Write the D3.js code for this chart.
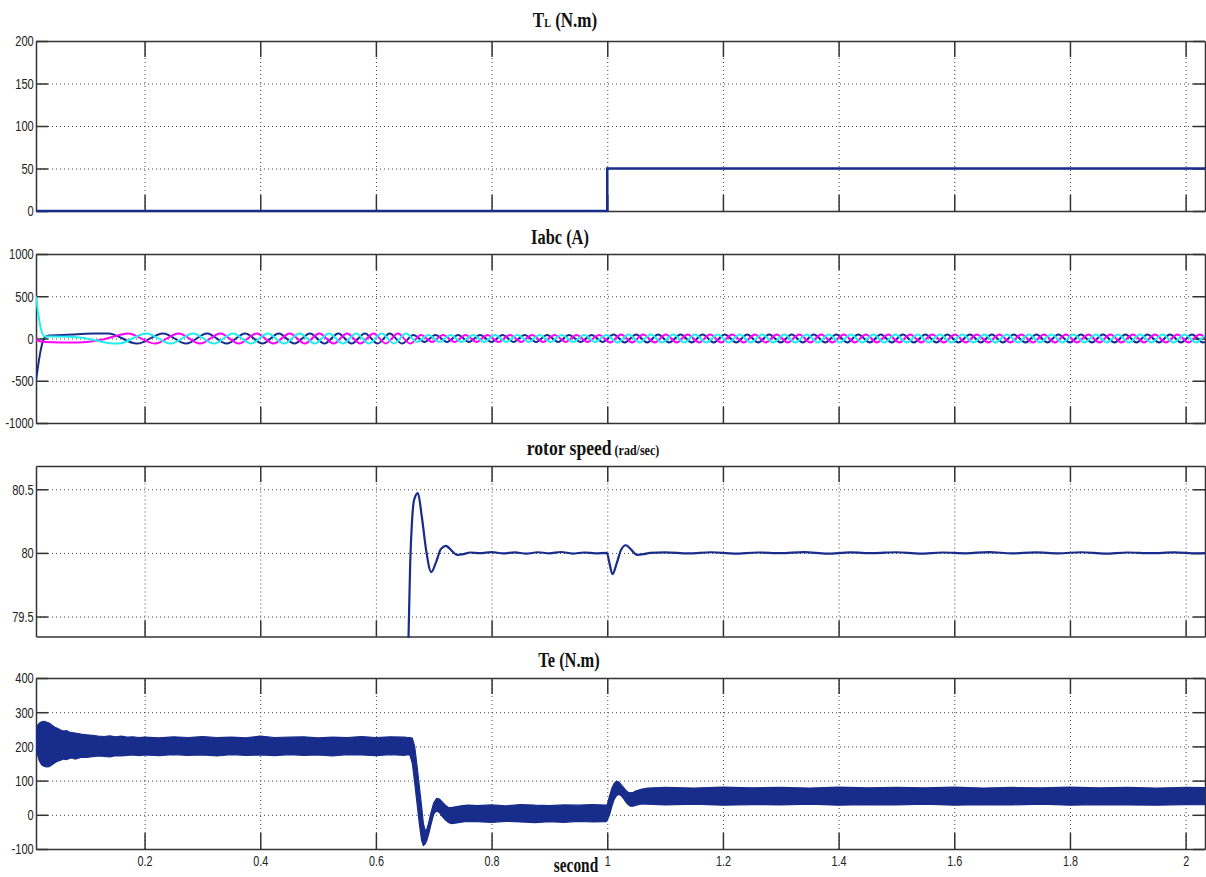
<!DOCTYPE html>
<html>
<head>
<meta charset="utf-8">
<script src="https://cdnjs.cloudflare.com/ajax/libs/d3/7.8.5/d3.min.js"></script>
<style>
  body { margin: 0; background: #fff; }
  .grid path { display: none; }
  .grid line { stroke: #444; stroke-width: 1; stroke-dasharray: 1,3; }
  .axis path, .axis line { stroke: #333; stroke-width: 1.5; }
  .axis text { font-family: "Liberation Sans", Arial, sans-serif; font-size: 15px; fill: #222; }
  .title { font-family: "Liberation Serif", "Times New Roman", serif; font-weight: bold; fill: #111; }
</style>
</head>
<body>
<svg id="chart" width="1206" height="877"></svg>
<script>
// x axis (time, s)
var xDomain = [0.0123, 2.0335];
var xTicks = [0.2, 0.4, 0.6, 0.8, 1, 1.2, 1.4, 1.6, 1.8, 2];
var xTickLabels = ['0.2', '0.4', '0.6', '0.8', '1', '1.2', '1.4', '1.6', '1.8', '2'];

// TL (N.m)
var tlT = [0.0123, 1.0, 1.0, 2.04];
var tlV = [0, 0, 50, 50];
var tlTicks = [0, 50, 100, 150, 200];
var tlTickLabels = ['0', '50', '100', '150', '200'];

// Iabc (A): start transients, then times (ms) of successive peaks/troughs
var iTicks = [-1000, -500, 0, 500, 1000];
var iTickLabels = ['-1000', '-500', '0', '500', '1000'];
var iaStart = [[0.0123, -500], [0.016, -320], [0.021, -120], [0.027, 10], [0.035, 35], [0.06, 40], [0.09, 52], [0.115, 60]];
var ibStart = [[0.0123, -15], [0.02, -35], [0.04, -45], [0.07, -48], [0.1, -40], [0.13, -10], [0.15, 30]];
var icStart = [[0.0123, 500], [0.016, 300], [0.021, 110], [0.027, 25], [0.04, 25], [0.07, 20], [0.095, 5], [0.12, -30], [0.14, -55]];
var iaExt = [137,187,232,272,308,342,374,404,432,459,486,511,535,558,581,603,624,645,
  665,684,703,723,742,761,780,800,819,838,857,877,896,915,934,954,973,992,1011,1030,1050,1069,1088,1107,1127,1146,
  1165,1184,1203,1223,1242,1261,1280,1300,1319,1338,1357,1377,1396,1415,1434,1454,1473,1492,1511,1530,1550,1569,
  1588,1607,1627,1646,1665,1684,1703,1723,1742,1761,1780,1800,1819,1838,1857,1877,1896,1915,1934,1954,1973,1992,
  2011,2030,2050];
var ibExt = [171,218,259,296,331,363,394,423,451,477,502,527,550,573,596,617,638,659,
  678,697,716,736,755,774,793,812,832,851,870,889,909,928,947,966,986,1005,1024,1043,1062,1082,1101,1120,1139,1159,
  1178,1197,1216,1236,1255,1274,1293,1312,1332,1351,1370,1389,1409,1428,1447,1466,1486,1505,1524,1543,1562,1582,
  1601,1620,1639,1659,1678,1697,1716,1736,1755,1774,1793,1812,1832,1851,1870,1889,1909,1928,1947,1966,1986,2005,
  2024,2043];
var icExt = [155,203,245,284,320,353,384,413,441,468,494,519,543,566,588,610,631,652,
  671,691,710,729,748,768,787,806,825,845,864,883,902,921,941,960,979,998,1018,1037,1056,1075,1095,1114,1133,1152,
  1171,1191,1210,1229,1248,1268,1287,1306,1325,1345,1364,1383,1402,1421,1441,1460,1479,1498,1518,1537,1556,1575,
  1595,1614,1633,1652,1671,1691,1710,1729,1748,1768,1787,1806,1825,1845,1864,1883,1902,1921,1941,1960,1979,1998,
  2018,2037,2056];
var iaFirstSign = 1, ibFirstSign = 1, icFirstSign = -1;
var iAmpEnd = [0.66, 1.0, 2.1];
var iAmpVal = [60, 40, 46];

// rotor speed (rad/sec)
var spdTicks = [79.5, 80, 80.5];
var spdTickLabels = ['79.5', '80', '80.5'];
var spdT = [0.0123, 0.64, 0.6564, 0.6593, 0.6622, 0.6662, 0.6726, 0.6795, 0.6869, 0.6956, 0.7042, 0.7123, 0.7209, 0.7313, 0.74, 0.7514, 0.763,
  0.78, 0.8, 0.82, 0.84, 0.86, 0.88, 0.9, 0.92, 0.94, 0.96, 0.98, 0.9993,
  1.0038, 1.0089, 1.0165, 1.0235, 1.0321, 1.0425, 1.0511, 1.0626, 1.074,
  1.1, 1.14, 1.18, 1.22, 1.26, 1.3, 1.34, 1.38, 1.42, 1.46, 1.5, 1.54, 1.58, 1.62, 1.66, 1.7, 1.74, 1.78, 1.82, 1.86, 1.9, 1.94, 1.98, 2.02, 2.04];
var spdV = [0.5, 76.4, 79.34, 79.92, 80.23, 80.42, 80.47, 80.28, 80.02, 79.85, 79.93, 80.03, 80.055, 80.016, 79.985, 79.99, 80.003,
  79.998, 80.006, 79.996, 80.004, 79.994, 80.005, 79.997, 80.007, 79.995, 80.003, 79.997, 80.0,
  79.92, 79.833, 79.92, 80.02, 80.06, 80.02, 79.985, 79.99, 80.0,
  80.004, 79.996, 80.005, 79.995, 80.003, 79.998, 80.006, 79.994, 80.004, 79.998, 80.005, 79.995, 80.003, 79.997, 80.006, 79.996, 80.004, 79.997, 80.005, 79.995, 80.003, 79.998, 80.004, 79.996, 80.0];

// Te (N.m): upper / lower edge of the ripple band
var teTicks = [-100, 0, 100, 200, 300, 400];
var teTickLabels = ['-100', '0', '100', '200', '300', '400'];
var teT = [0.0123, 0.015, 0.018, 0.022, 0.026, 0.03, 0.035, 0.04, 0.045, 0.05, 0.055, 0.06, 0.065, 0.07, 0.075, 0.08, 0.09, 0.1, 0.11, 0.12, 0.13, 0.14, 0.15, 0.16, 0.17, 0.18, 0.19,
  0.2, 0.225, 0.25, 0.275, 0.3, 0.325, 0.35, 0.375, 0.4, 0.425, 0.45, 0.475, 0.5, 0.525, 0.55, 0.575, 0.6, 0.625, 0.65, 0.655,
  0.659, 0.663, 0.667, 0.671, 0.675, 0.679, 0.682, 0.685, 0.688, 0.691, 0.695, 0.7, 0.705, 0.71, 0.715, 0.72, 0.725, 0.73, 0.74, 0.75, 0.76,
  0.775, 0.8, 0.825, 0.85, 0.875, 0.9, 0.925, 0.95, 0.975, 0.998,
  1.0, 1.004, 1.008, 1.012, 1.016, 1.02, 1.024, 1.028, 1.032, 1.036, 1.04, 1.045, 1.05, 1.06, 1.07,
  1.1, 1.15, 1.2, 1.25, 1.3, 1.35, 1.4, 1.45, 1.5, 1.55, 1.6, 1.65, 1.7, 1.75, 1.8, 1.85, 1.9, 1.95, 2.0, 2.05];
var teHi = [250, 262, 268, 272, 273, 271, 268, 262, 256, 252, 248, 245, 246, 242, 240, 239, 236, 234, 232, 230, 229, 231, 228, 230, 227, 228, 226,
  227, 225, 228, 226, 229, 226, 227, 225, 230, 226, 227, 228, 225, 227, 226, 229, 226, 228, 227, 226,
  226, 224, 200, 145, 85, 25, -25, -45, -42, -25, 5, 35, 48, 46, 37, 28, 22, 21, 24, 27, 28,
  27, 29, 26, 30, 28, 27, 29, 28, 30, 28,
  30, 55, 78, 92, 98, 96, 88, 80, 72, 66, 64, 66, 70, 75, 78,
  80, 78, 81, 79, 80, 78, 81, 79, 80, 79, 81, 78, 80, 79, 81, 79, 80, 78, 80, 79];
var teLo = [198, 175, 158, 146, 142, 140, 141, 146, 152, 157, 160, 163, 161, 165, 166, 163, 168, 168, 170, 172, 171, 169, 173, 172, 174, 175, 173,
  175, 173, 176, 174, 175, 172, 176, 174, 175, 173, 176, 174, 175, 172, 176, 175, 173, 176, 174, 176,
  174, 150, 95, 35, -25, -75, -90, -86, -75, -58, -30, 2, 12, 6, -5, -15, -22, -26, -24, -21, -19,
  -20, -22, -19, -21, -23, -20, -22, -19, -21, -20,
  -16, 0, 25, 45, 56, 60, 56, 48, 38, 30, 25, 25, 28, 32, 31,
  29, 31, 28, 30, 29, 31, 28, 30, 29, 31, 28, 30, 29, 31, 28, 30, 29, 28, 30, 29];

var navy = '#182c8c';
var left = 36, right = 1205;

var panels = [
  { top: 41,  bottom: 211,   domain: [0, 200],         ticks: tlTicks,  labels: tlTickLabels },
  { top: 254, bottom: 423,   domain: [-1000, 1000],    ticks: iTicks,   labels: iTickLabels },
  { top: 466, bottom: 636.5, domain: [79.343, 80.683], ticks: spdTicks, labels: spdTickLabels },
  { top: 678, bottom: 849,   domain: [-100, 400],      ticks: teTicks,  labels: teTickLabels }
];

var svg = d3.select('#chart');
var x = d3.scaleLinear().domain(xDomain).range([left, right]);
var defs = svg.append('defs');

panels.forEach(function(p, i) {
  var y = d3.scaleLinear().domain(p.domain).range([p.bottom, p.top]);
  p.y = y;
  var h = p.bottom - p.top;
  var g = svg.append('g');

  defs.append('clipPath').attr('id', 'clip' + i)
    .append('rect')
    .attr('x', left).attr('y', p.top - 1.5)
    .attr('width', right - left).attr('height', h + 3);

  // dotted grid
  g.append('g').attr('class', 'grid')
    .attr('transform', 'translate(0,' + p.bottom + ')')
    .call(d3.axisBottom(x).tickValues(xTicks).tickSize(-h).tickFormat(''));
  g.append('g').attr('class', 'grid')
    .attr('transform', 'translate(' + left + ',0)')
    .call(d3.axisLeft(y).tickValues(p.ticks).tickSize(-(right - left)).tickFormat(''));

  // box with inward ticks
  g.append('g').attr('class', 'axis')
    .attr('transform', 'translate(' + left + ',0)')
    .call(d3.axisLeft(y).tickValues(p.ticks).tickSizeInner(-12).tickSizeOuter(0).tickPadding(3)
      .tickFormat(function(d, k) { return p.labels[k]; }))
    .selectAll('text').attr('transform', 'scale(0.74,1)');
  g.append('g').attr('class', 'axis')
    .attr('transform', 'translate(' + right + ',0)')
    .call(d3.axisRight(y).tickValues(p.ticks).tickSizeInner(-12).tickSizeOuter(0).tickFormat(''));
  g.append('g').attr('class', 'axis')
    .attr('transform', 'translate(0,' + p.top + ')')
    .call(d3.axisTop(x).tickValues(xTicks).tickSizeInner(-16).tickSizeOuter(0).tickFormat(''));
  var bottomAxis = d3.axisBottom(x).tickValues(xTicks).tickSizeInner(-16).tickSizeOuter(0).tickPadding(6);
  if (i === panels.length - 1) {
    bottomAxis.tickFormat(function(d, k) { return xTickLabels[k]; });
  } else {
    bottomAxis.tickFormat('');
  }
  g.append('g').attr('class', 'axis')
    .attr('transform', 'translate(0,' + p.bottom + ')')
    .call(bottomAxis)
    .selectAll('text').attr('transform', 'scale(0.72,1)');

  p.plot = svg.append('g').attr('clip-path', 'url(#clip' + i + ')');
});

// TL
var p0 = panels[0];
p0.plot.append('path')
  .datum(d3.zip(tlT, tlV))
  .attr('fill', 'none').attr('stroke', navy).attr('stroke-width', 2.5)
  .attr('d', d3.line().x(function(d) { return x(d[0]); }).y(function(d) { return p0.y(d[1]); }));

// Iabc
function ampAt(t) {
  for (var k = 0; k < iAmpEnd.length; k++) {
    if (t < iAmpEnd[k]) return iAmpVal[k];
  }
  return iAmpVal[iAmpVal.length - 1];
}
function phasePoints(start, ext, firstSign) {
  var pts = start.slice();
  ext.forEach(function(ms, k) {
    var t = ms / 1000;
    var s = (k % 2 === 0) ? firstSign : -firstSign;
    pts.push([t, s * ampAt(t)]);
  });
  return pts;
}
var p1 = panels[1];
var iLine = d3.line()
  .x(function(d) { return x(d[0]); })
  .y(function(d) { return p1.y(d[1]); })
  .curve(d3.curveMonotoneX);
var phases = [
  { pts: phasePoints(iaStart, iaExt, iaFirstSign), color: navy },
  { pts: phasePoints(ibStart, ibExt, ibFirstSign), color: '#ff00ff' },
  { pts: phasePoints(icStart, icExt, icFirstSign), color: '#22eeee' }
];
p1.plot.selectAll('path.phase')
  .data(phases)
  .enter()
  .append('path')
  .attr('class', 'phase')
  .attr('fill', 'none')
  .attr('stroke', function(d) { return d.color; })
  .attr('stroke-width', 2)
  .attr('d', function(d) { return iLine(d.pts); });

// rotor speed
var p2 = panels[2];
p2.plot.append('path')
  .datum(d3.zip(spdT, spdV))
  .attr('fill', 'none').attr('stroke', navy).attr('stroke-width', 2.2)
  .attr('d', d3.line()
    .x(function(d) { return x(d[0]); })
    .y(function(d) { return p2.y(d[1]); })
    .curve(d3.curveMonotoneX));

// Te band
var p3 = panels[3];
p3.plot.append('path')
  .datum(d3.zip(teT, teHi, teLo))
  .attr('fill', navy).attr('stroke', navy).attr('stroke-width', 1.2)
  .attr('d', d3.area()
    .x(function(d) { return x(d[0]); })
    .y0(function(d) { return p3.y(d[2]); })
    .y1(function(d) { return p3.y(d[1]); }));

// titles
function title(cx, by, sx, parts) {
  var t = svg.append('text').attr('class', 'title')
    .attr('text-anchor', 'middle')
    .attr('transform', 'translate(' + cx + ',' + by + ') scale(' + sx + ',1)');
  parts.forEach(function(pt) {
    t.append('tspan').attr('font-size', pt[1]).text(pt[0]);
  });
}
title(565, 27, 0.85, [['T', 20], ['L', 12], [' (N.m)', 20]]);
title(560, 244, 0.82, [['Iabc (A)', 20]]);
title(593, 455, 0.8, [['rotor speed', 22], [' (rad/sec)', 15]]);
title(569, 667, 0.82, [['Te (N.m)', 20]]);
title(576, 872, 0.7, [['second', 22]]);
</script>
</body>
</html>
